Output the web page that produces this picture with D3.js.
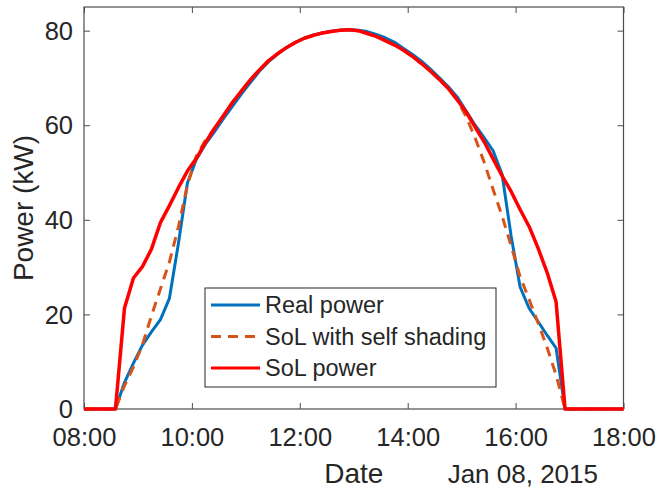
<!DOCTYPE html>
<html>
<head>
<meta charset="utf-8">
<script src="https://cdn.jsdelivr.net/npm/d3@7"></script>
<style>
  html, body { margin: 0; padding: 0; background: #fff; }
  text { font-family: "Liberation Sans", Arial, Helvetica, sans-serif; fill: #262626; }
</style>
</head>
<body>
<div class="d3Chart"></div>
<script>
// sample times (Jan 08, 2015)
var times = ["08:00",
  "08:35", "08:45", "08:55", "09:05", "09:15", "09:25", "09:35", "09:45", "09:55",
  "10:05", "10:15", "10:25", "10:35", "10:45", "10:55", "11:05", "11:15", "11:25",
  "11:35", "11:45", "11:55", "12:05", "12:15", "12:25", "12:35", "12:45", "12:55",
  "13:05", "13:15", "13:25", "13:35", "13:45", "13:55", "14:05", "14:15", "14:25",
  "14:35", "14:45", "14:55", "15:05", "15:15", "15:25", "15:35", "15:45", "15:55",
  "16:05", "16:15", "16:25", "16:35", "16:45", "16:55",
  "18:00"];

// Real power (kW)
var realPower = [0,
  0, 5.6, 9.7, 13.5, 16.3, 18.9, 23.4, 35.0, 47.8,
  52.8, 56.0, 58.6, 61.4, 64.0, 66.6, 69.0, 71.4, 73.4,
  75.0, 76.4, 77.5, 78.4, 79.1, 79.5, 79.9, 80.1, 80.2,
  80.1, 79.8, 79.2, 78.5, 77.6, 76.3, 75.0, 73.6, 71.9,
  70.1, 68.2, 66.0, 63.0, 60.0, 57.4, 54.6, 49.6, 36.6,
  25.8, 21.3, 18.5, 15.6, 12.9, 0,
  0];

// SoL with self shading (kW)
var solShading = [0,
  0, 4.9, 8.9, 13.6, 19.7, 25.4, 31.1, 38.5, 47.3,
  53.5, 56.8, 59.3, 62.0, 64.8, 67.2, 69.6, 71.7, 73.6,
  75.1, 76.4, 77.5, 78.4, 79.0, 79.5, 79.8, 80.1, 80.2,
  80.0, 79.4, 78.8, 77.9, 77.0, 75.9, 74.6, 73.1, 71.5,
  69.7, 67.8, 65.4, 61.8, 57.3, 52.2, 46.4, 40.8, 34.5,
  28.0, 23.2, 18.2, 13.0, 7.2, 0,
  0];

// SoL power (kW)
var solPower = [0,
  0, 21.3, 27.7, 30.1, 33.8, 39.4, 43.0, 46.8, 50.3,
  53.0, 56.3, 59.3, 62.0, 64.8, 67.2, 69.6, 71.7, 73.6,
  75.1, 76.4, 77.5, 78.4, 79.0, 79.5, 79.8, 80.1, 80.2,
  80.0, 79.4, 78.8, 77.9, 77.0, 75.9, 74.6, 73.1, 71.5,
  69.7, 67.8, 65.4, 62.8, 59.6, 56.5, 52.9, 49.3, 46.0,
  42.2, 38.6, 34.0, 28.9, 22.7, 0,
  0];

var xTicks = ["08:00", "10:00", "12:00", "14:00", "16:00", "18:00"];
var yTicks = [0, 20, 40, 60, 80];
var seriesNames = ["Real power", "SoL with self shading", "SoL power"];

// 畫布
var width = 656;
var height = 489;
var plot = { left: 84, right: 623.5, top: 7, bottom: 409 };

var svg = d3
  .select(".d3Chart")
  .append("svg")
  .attr("width", width)
  .attr("height", height);

var parseTime = d3.timeParse("%Y-%m-%d %H:%M");
function toDate(t) {
  return parseTime("2015-01-08 " + t);
}

// 比例尺
var x = d3
  .scaleTime()
  .domain([toDate("08:00"), toDate("18:00")])
  .range([plot.left, plot.right]);

var y = d3
  .scaleLinear()
  .domain([0, 85])
  .range([plot.bottom, plot.top]);

var axisColor = "#4d4d4d";
var tickLen = 6;

// 坐標軸 (box 四邊, 刻度朝內)
var xBottom = svg
  .append("g")
  .attr("transform", `translate(0, ${plot.bottom})`)
  .call(
    d3.axisBottom(x)
      .tickValues(xTicks.map(toDate))
      .tickSizeInner(-tickLen)
      .tickSizeOuter(0)
      .tickPadding(19)
      .tickFormat(d3.timeFormat("%H:%M"))
  );
var xTop = svg
  .append("g")
  .attr("transform", `translate(0, ${plot.top})`)
  .call(
    d3.axisTop(x)
      .tickValues(xTicks.map(toDate))
      .tickSizeInner(-tickLen)
      .tickSizeOuter(0)
      .tickFormat("")
  );
var yLeft = svg
  .append("g")
  .attr("transform", `translate(${plot.left}, 0)`)
  .call(
    d3.axisLeft(y)
      .tickValues(yTicks)
      .tickSizeInner(-tickLen)
      .tickSizeOuter(0)
      .tickPadding(11)
  );
var yRight = svg
  .append("g")
  .attr("transform", `translate(${plot.right}, 0)`)
  .call(
    d3.axisRight(y)
      .tickValues(yTicks)
      .tickSizeInner(-tickLen)
      .tickSizeOuter(0)
      .tickFormat("")
  );

[xBottom, xTop, yLeft, yRight].forEach(function (g) {
  g.select(".domain").remove();
  g.selectAll(".tick line").attr("stroke", axisColor).attr("stroke-width", 1);
  g.selectAll("text")
    .attr("fill", "#262626")
    .style("font-size", "25.5px")
    .style("font-family", '"Liberation Sans", Arial, sans-serif');
});
xBottom.selectAll("text").attr("dy", "0.71em");
yLeft.selectAll("text").attr("dy", "0.34em");

// 邊框
svg
  .append("rect")
  .attr("x", plot.left)
  .attr("y", plot.top)
  .attr("width", plot.right - plot.left)
  .attr("height", plot.bottom - plot.top)
  .attr("fill", "none")
  .attr("stroke", axisColor)
  .attr("stroke-width", 1.2);

// 曲線
var series = [
  { name: seriesNames[0], values: realPower, color: "#0072BD", width: 3, dash: null },
  { name: seriesNames[1], values: solShading, color: "#D95319", width: 3, dash: "10,7" },
  { name: seriesNames[2], values: solPower, color: "#FF0000", width: 3.5, dash: null },
];

var line = d3
  .line()
  .x(function (d) { return x(d[0]); })
  .y(function (d) { return y(d[1]); });

var lines = svg.append("g").attr("class", "lines");
series.forEach(function (s) {
  var pts = times.map(function (t, i) { return [toDate(t), s.values[i]]; });
  lines
    .append("path")
    .attr("d", line(pts))
    .attr("fill", "none")
    .attr("stroke", s.color)
    .attr("stroke-width", s.width)
    .attr("stroke-linejoin", "round")
    .attr("stroke-dasharray", s.dash);
});

// 軸標籤
svg
  .append("text")
  .attr("x", (plot.left + plot.right) / 2)
  .attr("y", 483)
  .attr("text-anchor", "middle")
  .style("font-size", "28px")
  .text("Date");

svg
  .append("text")
  .attr("x", 598)
  .attr("y", 483)
  .attr("text-anchor", "end")
  .style("font-size", "26px")
  .text("Jan 08, 2015");

svg
  .append("text")
  .attr("transform", `translate(33, ${(plot.top + plot.bottom) / 2}) rotate(-90)`)
  .attr("text-anchor", "middle")
  .style("font-size", "28px")
  .text("Power (kW)");

// 圖例
var legend = svg.append("g").attr("class", "legend");
legend
  .append("rect")
  .attr("x", 205)
  .attr("y", 288)
  .attr("width", 291)
  .attr("height", 99)
  .attr("fill", "#fff")
  .attr("stroke", "#262626")
  .attr("stroke-width", 1);

series.forEach(function (s, i) {
  var ly = 305 + i * 31.5;
  legend
    .append("line")
    .attr("x1", 211)
    .attr("x2", 260)
    .attr("y1", ly)
    .attr("y2", ly)
    .attr("stroke", s.color)
    .attr("stroke-width", 3)
    .attr("stroke-dasharray", s.dash);
  legend
    .append("text")
    .attr("x", 265)
    .attr("y", ly)
    .attr("dy", "0.36em")
    .style("font-size", "23.5px")
    .attr("fill", "#000")
    .text(s.name);
});
</script>
</body>
</html>
